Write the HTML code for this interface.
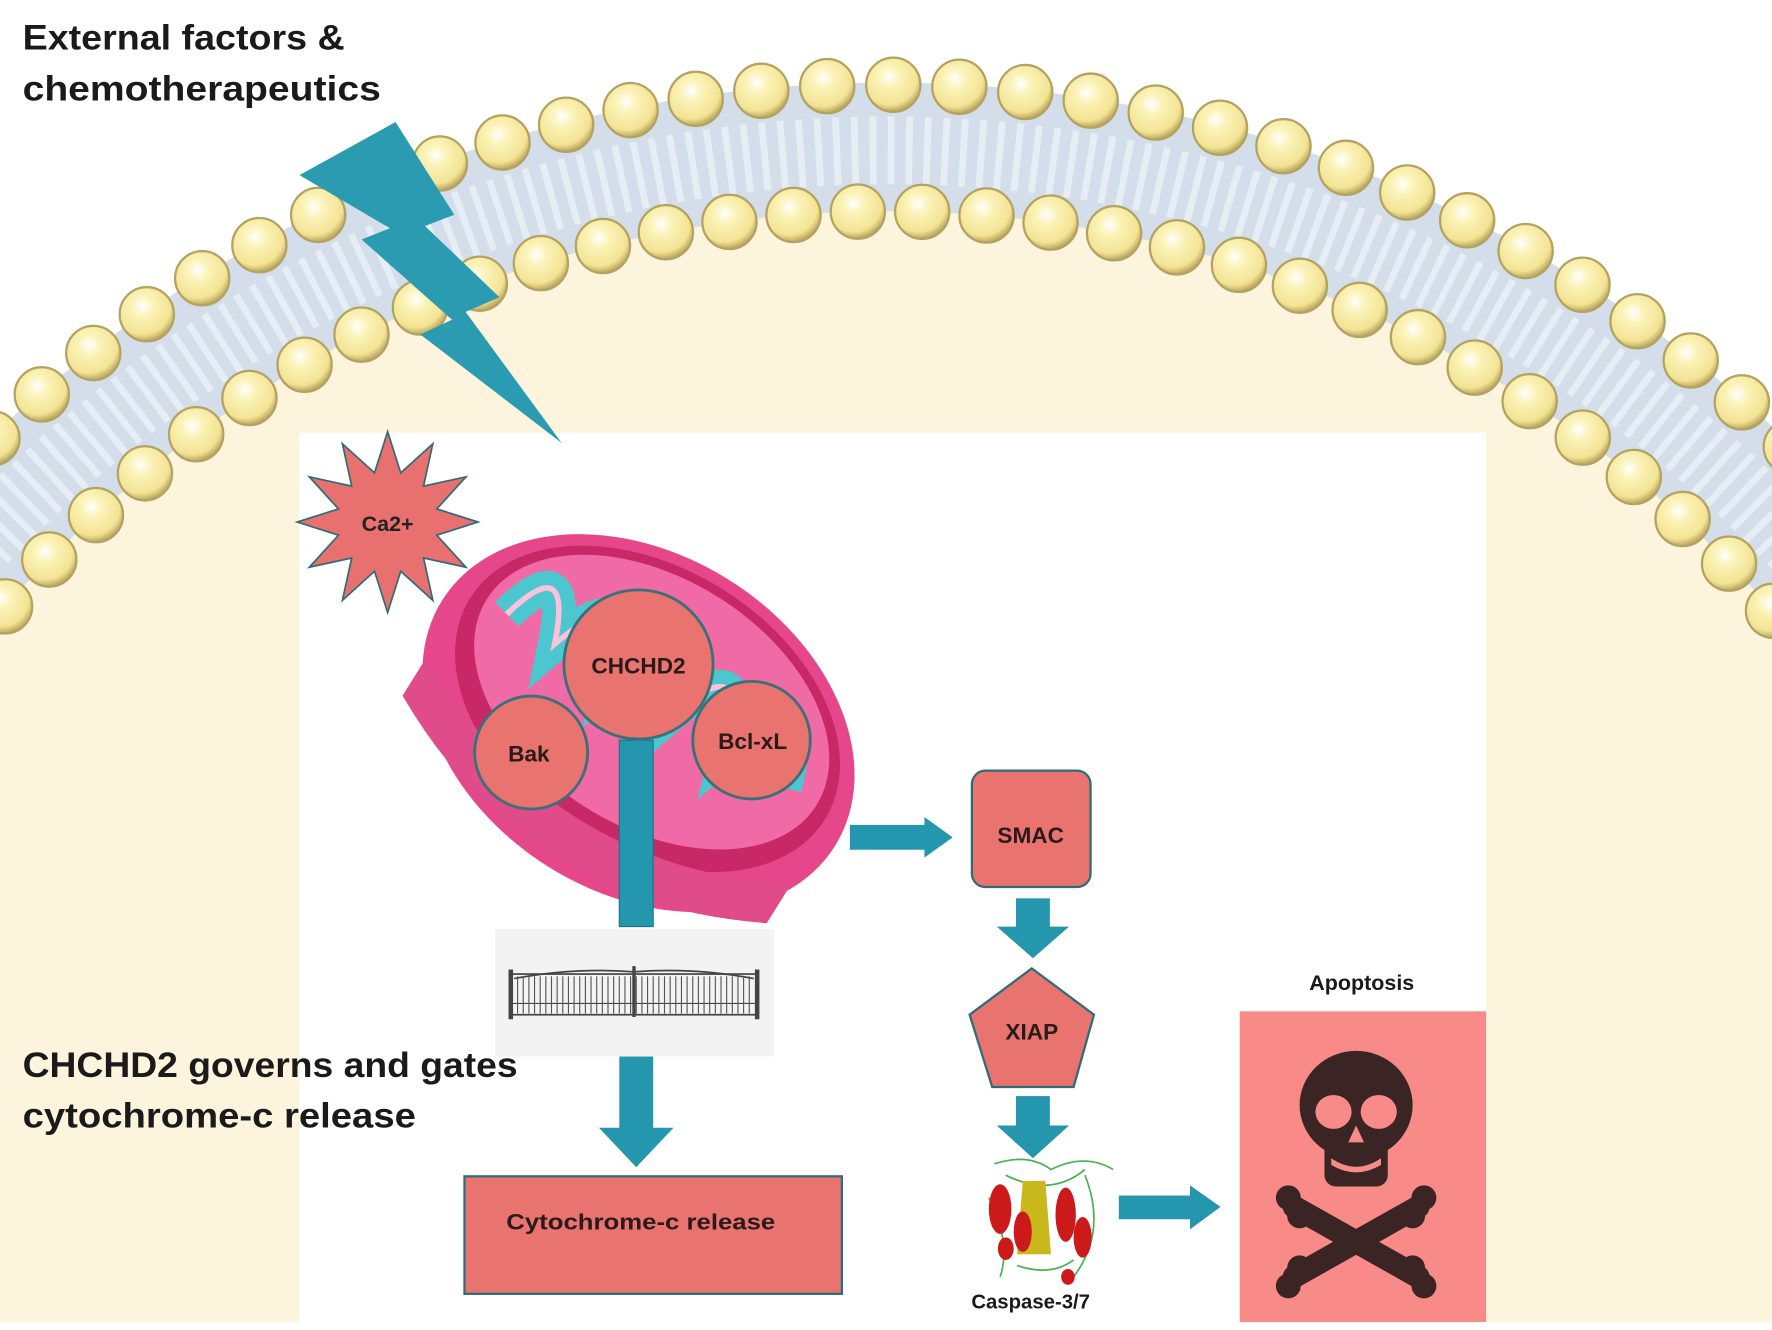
<!DOCTYPE html>
<html><head><meta charset="utf-8"><style>
html,body{margin:0;padding:0;background:#fff;width:1772px;height:1330px;overflow:hidden;}
svg{display:block;}
text{font-family:"Liberation Sans",sans-serif;font-weight:bold;}
</style></head><body>
<svg id="s" width="1772" height="1330" viewBox="0 0 1568 1177" preserveAspectRatio="none" xmlns="http://www.w3.org/2000/svg">
<defs>
<radialGradient id="ball" cx="42%" cy="35%" r="65%">
<stop offset="0" stop-color="#ffffff"/><stop offset="0.3" stop-color="#fbf3b8"/><stop offset="0.8" stop-color="#f3e393"/><stop offset="1" stop-color="#b9a660"/>
</radialGradient>
<clipPath id="cl"><rect x="0" y="0" width="1568" height="1177"/></clipPath>
</defs>
<rect width="1568" height="1177" fill="#fff"/>
<g clip-path="url(#cl)">
<circle cx="785" cy="1233" r="1160" fill="#d3deea"/>
<circle cx="785" cy="1233" r="1100" fill="none" stroke="#e6edf5" stroke-width="60" stroke-dasharray="6 10"/>
<circle cx="785" cy="1233" r="1046" fill="#fdf4de"/>
<rect x="0" y="1170" width="1568" height="10" fill="#fff"/>
<g id="balls"></g>
</g>
<rect x="265" y="383" width="1050" height="787" fill="#fff"/>
<text x="20" y="44" font-size="31" fill="#1a1a1a" textLength="285" lengthAdjust="spacingAndGlyphs">External factors &amp;</text>
<text x="20" y="89" font-size="31" fill="#1a1a1a" textLength="317" lengthAdjust="spacingAndGlyphs">chemotherapeutics</text>
<polygon points="265,155 350,108 402,190 376,200 442,263 412,276 497,392 372,296 400,283 320,212 345,202" fill="#2a9bb0"/>
<polygon id="star" fill="#e8706e" stroke="#2e6c78" stroke-width="1.5"/>
<text x="343" y="470" font-size="19" text-anchor="middle" fill="#222">Ca2+</text>
<g transform="rotate(32 565 640)">
<ellipse cx="565" cy="640" rx="205" ry="150" fill="#e6468a"/>
<ellipse cx="565" cy="625" rx="185" ry="125" fill="#c92866"/>
<ellipse cx="565" cy="618" rx="172" ry="110" fill="#f06aa6"/>
<path d="M415,620 q20,-80 50,0 q30,-95 60,0 q30,-95 60,0 q30,-95 60,0 q30,-95 60,0" fill="none" stroke="#4cc7cf" stroke-width="30"/>
<path d="M415,620 q20,-80 50,0 q30,-95 60,0 q30,-95 60,0 q30,-95 60,0 q30,-95 60,0" fill="none" stroke="#fbc2dc" stroke-width="5"/>
<path d="M375,690 q190,100 380,0 l0,40 q-190,100 -380,0z" fill="#e04b89"/>
</g>
<rect x="548" y="655" width="30" height="165" fill="#2496ad" stroke="#1c7585" stroke-width="1"/>
<circle cx="565" cy="588" r="66" fill="#e8736f" stroke="#3a7078" stroke-width="2.5"/>
<circle cx="470" cy="666" r="50" fill="#e8736f" stroke="#3a7078" stroke-width="2.5"/>
<circle cx="665" cy="655" r="52" fill="#e8736f" stroke="#3a7078" stroke-width="2.5"/>
<text x="565" y="596" font-size="20" text-anchor="middle" fill="#2a1a1a">CHCHD2</text>
<text x="468" y="674" font-size="20" text-anchor="middle" fill="#2a1a1a">Bak</text>
<text x="666" y="663" font-size="20" text-anchor="middle" fill="#2a1a1a">Bcl-xL</text>
<rect x="438" y="822" width="247" height="113" fill="#f3f3f3"/>
<g stroke="#444" fill="none">
<rect x="452" y="862" width="218" height="36" stroke-width="1.5"/>
<line x1="452" y1="858" x2="452" y2="902" stroke-width="4"/>
<line x1="670" y1="858" x2="670" y2="902" stroke-width="4"/>
<line x1="561" y1="855" x2="561" y2="900" stroke-width="3"/>
<path d="M455,866 q53,-10 106,-6 q53,-4 106,6" stroke-width="1.5"/>
<line x1="452" y1="888" x2="670" y2="888" stroke-width="1"/>
</g>
<g id="bars" stroke="#555" stroke-width="1"></g>
<rect x="548" y="935" width="30" height="65" fill="#2496ad"/>
<polygon points="530,998 596,998 563,1033" fill="#2496ad"/>
<rect x="411" y="1041" width="334" height="104" fill="#e8736f" stroke="#2e6c78" stroke-width="2"/>
<text x="567" y="1088" font-size="20" text-anchor="middle" fill="#2a1a1a" textLength="238" lengthAdjust="spacingAndGlyphs">Cytochrome-c release</text>
<text x="20" y="953" font-size="31" fill="#1a1a1a" textLength="438" lengthAdjust="spacingAndGlyphs">CHCHD2 governs and gates</text>
<text x="20" y="998" font-size="31" fill="#1a1a1a" textLength="348" lengthAdjust="spacingAndGlyphs">cytochrome-c release</text>
<rect x="752" y="730" width="68" height="22" fill="#2496ad"/>
<polygon points="818,723 843,741 818,759" fill="#2496ad"/>
<rect x="860" y="682" width="105" height="103" rx="12" fill="#e8736f" stroke="#2e6c78" stroke-width="2"/>
<text x="912" y="746" font-size="20" text-anchor="middle" fill="#2a1a1a">SMAC</text>
<rect x="899" y="795" width="30" height="27" fill="#2496ad"/>
<polygon points="882,820 946,820 914,848" fill="#2496ad"/>
<polygon points="913,857 968,898 950,962 878,962 858,898" fill="#e8736f" stroke="#2e6c78" stroke-width="2"/>
<text x="913" y="920" font-size="20" text-anchor="middle" fill="#2a1a1a">XIAP</text>
<rect x="899" y="970" width="30" height="28" fill="#2496ad"/>
<polygon points="882,996 946,996 914,1025" fill="#2496ad"/>
<g>
<path d="M880,1030 q30,-10 50,5 q30,-15 55,0 M875,1060 q20,40 10,70 M960,1040 q20,50 -10,90 M890,1040 q40,20 70,-5 M900,1120 q30,10 50,-5" stroke="#4caf50" fill="none" stroke-width="1.5"/>
<polygon points="905,1045 925,1045 930,1110 900,1110" fill="#c9b81c"/>
<g fill="#cc1a1a">
<ellipse cx="885" cy="1070" rx="10" ry="22"/><ellipse cx="905" cy="1090" rx="8" ry="18"/>
<ellipse cx="943" cy="1075" rx="9" ry="24"/><ellipse cx="958" cy="1095" rx="8" ry="18"/>
<ellipse cx="890" cy="1105" rx="7" ry="10"/><ellipse cx="945" cy="1130" rx="6" ry="7"/>
</g></g>
<text x="912" y="1158" font-size="18" text-anchor="middle" fill="#1a1a1a">Caspase-3/7</text>
<rect x="990" y="1058" width="65" height="21" fill="#2496ad"/>
<polygon points="1053,1049 1080,1068 1053,1088" fill="#2496ad"/>
<text x="1205" y="876" font-size="19" text-anchor="middle" fill="#1a1a1a">Apoptosis</text>
<rect x="1097" y="895" width="218" height="275" fill="#f88a87"/>
<g fill="#3a2424">
<ellipse cx="1200" cy="978" rx="50" ry="48"/>
<rect x="1172" y="1005" width="56" height="45" rx="10"/>
<g stroke="#3a2424" stroke-width="20" stroke-linecap="round">
<line x1="1145" y1="1068" x2="1255" y2="1130"/><line x1="1255" y1="1068" x2="1145" y2="1130"/>
</g>
<circle cx="1140" cy="1060" r="11"/><circle cx="1150" cy="1076" r="11"/>
<circle cx="1260" cy="1060" r="11"/><circle cx="1250" cy="1076" r="11"/>
<circle cx="1140" cy="1138" r="11"/><circle cx="1150" cy="1122" r="11"/>
<circle cx="1260" cy="1138" r="11"/><circle cx="1250" cy="1122" r="11"/>
</g>
<g fill="#f88a87">
<ellipse cx="1180" cy="984" rx="16" ry="15"/><ellipse cx="1220" cy="984" rx="16" ry="15"/>
<polygon points="1200,996 1193,1011 1207,1011"/>
<path d="M1178,1025 q22,15 44,0 l0,6 q-22,13 -44,0z"/>
</g>
</svg>
<script>
var NS="http://www.w3.org/2000/svg",g=document.getElementById("balls");
function row(r,step,off){for(var a=-Math.PI+off;a<0.01;a+=step){var x=785+r*Math.cos(a),y=1233+r*Math.sin(a);
if(x<-30||x>1600||y>600)continue;var c=document.createElementNS(NS,"circle");c.setAttribute("cx",x);c.setAttribute("cy",y);c.setAttribute("r",24);c.setAttribute("fill","url(#ball)");c.setAttribute("stroke","#b3a260");c.setAttribute("stroke-width","2");g.appendChild(c);}}
row(1158,0.0505,0.01);row(1046,0.0545,0.02);
var p=[];for(var i=0;i<24;i++){var rr=i%2?45:80,an=i*Math.PI/12-Math.PI/2;p.push((343+rr*Math.cos(an)).toFixed(1)+","+(462+rr*Math.sin(an)).toFixed(1));}
document.getElementById("star").setAttribute("points",p.join(" "));
var b=document.getElementById("bars");for(var x=458;x<668;x+=5){var l=document.createElementNS(NS,"line");l.setAttribute("x1",x);l.setAttribute("x2",x);l.setAttribute("y1",864);l.setAttribute("y2",897);b.appendChild(l);}
</script>
</body></html>
